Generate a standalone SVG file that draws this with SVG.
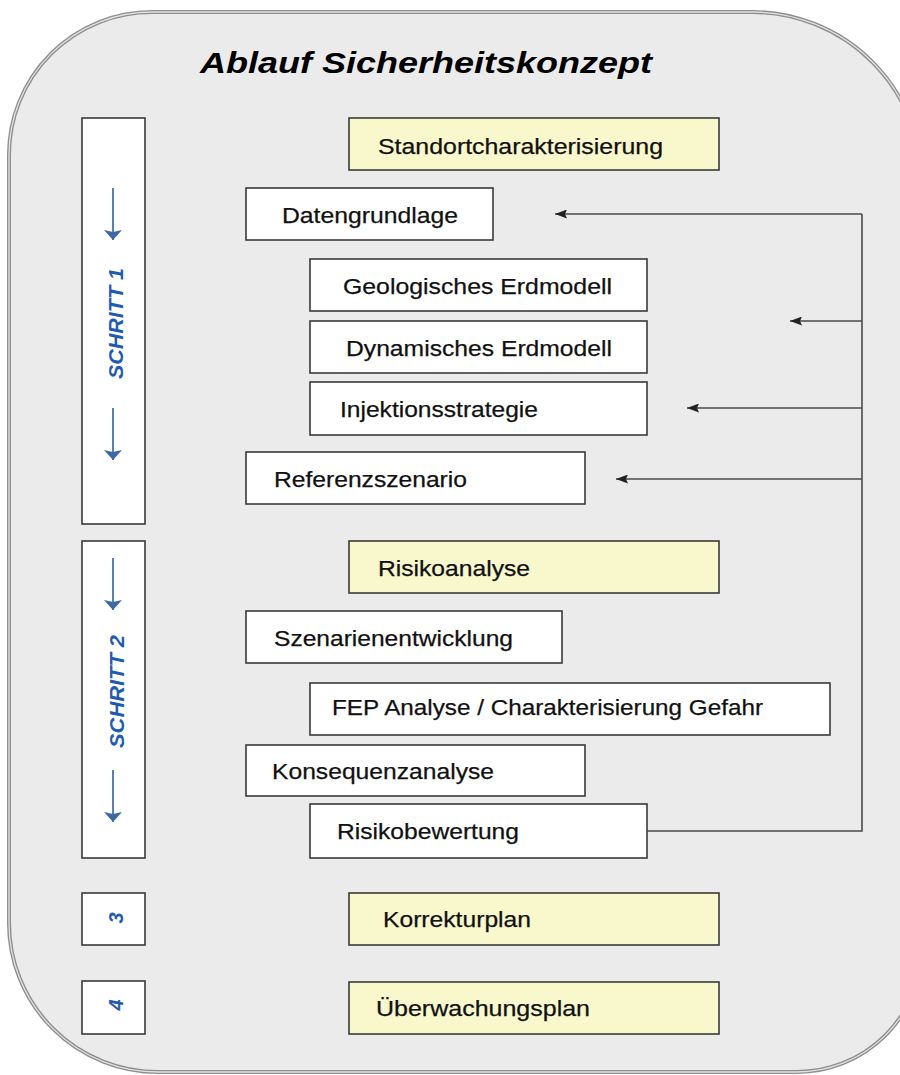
<svg xmlns="http://www.w3.org/2000/svg" width="900" height="1075" viewBox="0 0 900 1075">
  <defs>
    <style>
      .frame-outer { fill: #ebebeb; stroke: #8e8e8e; stroke-width: 4; }
      .frame-inner { fill: none; stroke: #e2e2e2; stroke-width: 1.3; }
      .box { fill: #ffffff; stroke: #3a3a3a; stroke-width: 1.6; }
      .box-y { fill: #f9f7cc; stroke: #3a3a3a; stroke-width: 1.6; }
      .lbl { font-family: "Liberation Sans", Arial, sans-serif; font-size: 22px; fill: #111111; stroke: #111111; stroke-width: 0.25; }
      .title { font-family: "Liberation Sans", Arial, sans-serif; font-size: 30px; font-weight: bold; font-style: italic; fill: #000000; }
      .step { font-family: "Liberation Sans", Arial, sans-serif; font-size: 20px; font-weight: bold; font-style: italic; fill: #1f5cb0; }
      .flow { fill: none; stroke: #4a4a4a; stroke-width: 1.6; }
      .down { fill: none; stroke: #4673a9; stroke-width: 1.8; }
    </style>
    <marker id="head" viewBox="0 0 12 9" refX="12" refY="4.5" markerWidth="12" markerHeight="9" markerUnits="userSpaceOnUse" orient="auto">
      <path d="M0,0 L12,4.5 L0,9 L2,4.5 Z" fill="#222222"/>
    </marker>
    <marker id="blueHead" viewBox="0 0 10 18" refX="10" refY="9" markerWidth="10" markerHeight="18" markerUnits="userSpaceOnUse" orient="auto">
      <path d="M0,0 L10,9 L0,18 L2,9 Z" fill="#3d6aa3"/>
    </marker>
  </defs>

  <!-- rounded background panel with double rim -->
  <path class="frame-outer" d="M152,12 H752 A170,170 0 0 1 922,182 V947 A125,125 0 0 1 797,1072 H158 A149,149 0 0 1 9,923 V155 A143,143 0 0 1 152,12 Z"/>
  <path class="frame-inner" d="M152,12 H752 A170,170 0 0 1 922,182 V947 A125,125 0 0 1 797,1072 H158 A149,149 0 0 1 9,923 V155 A143,143 0 0 1 152,12 Z"/>

  <text class="title" x="200" y="73" textLength="452" lengthAdjust="spacingAndGlyphs">Ablauf Sicherheitskonzept</text>

  <!-- step columns on the left -->
  <g id="schritt1">
    <rect class="box" x="82" y="118" width="63" height="406"/>
    <line class="down" x1="113" y1="188" x2="113" y2="240" marker-end="url(#blueHead)"/>
    <text class="step" transform="translate(123,379) rotate(-90)" textLength="111" lengthAdjust="spacingAndGlyphs">SCHRITT 1</text>
    <line class="down" x1="113" y1="408" x2="113" y2="460" marker-end="url(#blueHead)"/>
  </g>
  <g id="schritt2">
    <rect class="box" x="82" y="541" width="63" height="317"/>
    <line class="down" x1="113" y1="558" x2="113" y2="610" marker-end="url(#blueHead)"/>
    <text class="step" transform="translate(124,748) rotate(-90)" textLength="113" lengthAdjust="spacingAndGlyphs">SCHRITT 2</text>
    <line class="down" x1="113" y1="770" x2="113" y2="822" marker-end="url(#blueHead)"/>
  </g>
  <g id="schritt3">
    <rect class="box" x="82" y="893" width="63" height="52"/>
    <text class="step" transform="translate(123,918) rotate(-90)" text-anchor="middle">3</text>
  </g>
  <g id="schritt4">
    <rect class="box" x="82" y="981" width="63" height="53"/>
    <text class="step" transform="translate(123,1005) rotate(-90)" text-anchor="middle">4</text>
  </g>

  <!-- process boxes -->
  <g id="standortcharakterisierung">
    <rect class="box-y" x="349" y="118" width="370" height="52"/>
    <text class="lbl" x="378" y="154" textLength="285" lengthAdjust="spacingAndGlyphs">Standortcharakterisierung</text>
  </g>
  <g id="datengrundlage">
    <rect class="box" x="246" y="188" width="247" height="52"/>
    <text class="lbl" x="282" y="223" textLength="176" lengthAdjust="spacingAndGlyphs">Datengrundlage</text>
  </g>
  <g id="geologisches-erdmodell">
    <rect class="box" x="310" y="259" width="337" height="52"/>
    <text class="lbl" x="343" y="294" textLength="269" lengthAdjust="spacingAndGlyphs">Geologisches Erdmodell</text>
  </g>
  <g id="dynamisches-erdmodell">
    <rect class="box" x="310" y="321" width="337" height="52"/>
    <text class="lbl" x="346" y="356" textLength="266" lengthAdjust="spacingAndGlyphs">Dynamisches Erdmodell</text>
  </g>
  <g id="injektionsstrategie">
    <rect class="box" x="310" y="382" width="337" height="53"/>
    <text class="lbl" x="340" y="417" textLength="198" lengthAdjust="spacingAndGlyphs">Injektionsstrategie</text>
  </g>
  <g id="referenzszenario">
    <rect class="box" x="246" y="452" width="339" height="52"/>
    <text class="lbl" x="274" y="487" textLength="193" lengthAdjust="spacingAndGlyphs">Referenzszenario</text>
  </g>
  <g id="risikoanalyse">
    <rect class="box-y" x="349" y="541" width="370" height="52"/>
    <text class="lbl" x="378" y="576" textLength="152" lengthAdjust="spacingAndGlyphs">Risikoanalyse</text>
  </g>
  <g id="szenarienentwicklung">
    <rect class="box" x="246" y="611" width="316" height="52"/>
    <text class="lbl" x="274" y="646" textLength="239" lengthAdjust="spacingAndGlyphs">Szenarienentwicklung</text>
  </g>
  <g id="fep-analyse">
    <rect class="box" x="310" y="683" width="520" height="52"/>
    <text class="lbl" x="332" y="715" textLength="431" lengthAdjust="spacingAndGlyphs">FEP Analyse / Charakterisierung Gefahr</text>
  </g>
  <g id="konsequenzanalyse">
    <rect class="box" x="246" y="745" width="339" height="51"/>
    <text class="lbl" x="272" y="779" textLength="222" lengthAdjust="spacingAndGlyphs">Konsequenzanalyse</text>
  </g>
  <g id="risikobewertung">
    <rect class="box" x="310" y="804" width="337" height="54"/>
    <text class="lbl" x="337" y="839" textLength="182" lengthAdjust="spacingAndGlyphs">Risikobewertung</text>
  </g>
  <g id="korrekturplan">
    <rect class="box-y" x="349" y="893" width="370" height="52"/>
    <text class="lbl" x="383" y="927" textLength="148" lengthAdjust="spacingAndGlyphs">Korrekturplan</text>
  </g>
  <g id="ueberwachungsplan">
    <rect class="box-y" x="349" y="982" width="370" height="52"/>
    <text class="lbl" x="376" y="1016" textLength="214" lengthAdjust="spacingAndGlyphs">Überwachungsplan</text>
  </g>

  <!-- feedback loop from Risikobewertung back into step 1 -->
  <g id="connectors">
    <polyline class="flow" points="647,831 862,831 862,214"/>
    <line class="flow" x1="862" y1="214" x2="555" y2="214" marker-end="url(#head)"/>
    <line class="flow" x1="862" y1="321" x2="790" y2="321" marker-end="url(#head)"/>
    <line class="flow" x1="862" y1="408" x2="687" y2="408" marker-end="url(#head)"/>
    <line class="flow" x1="862" y1="479" x2="616" y2="479" marker-end="url(#head)"/>
  </g>
</svg>
